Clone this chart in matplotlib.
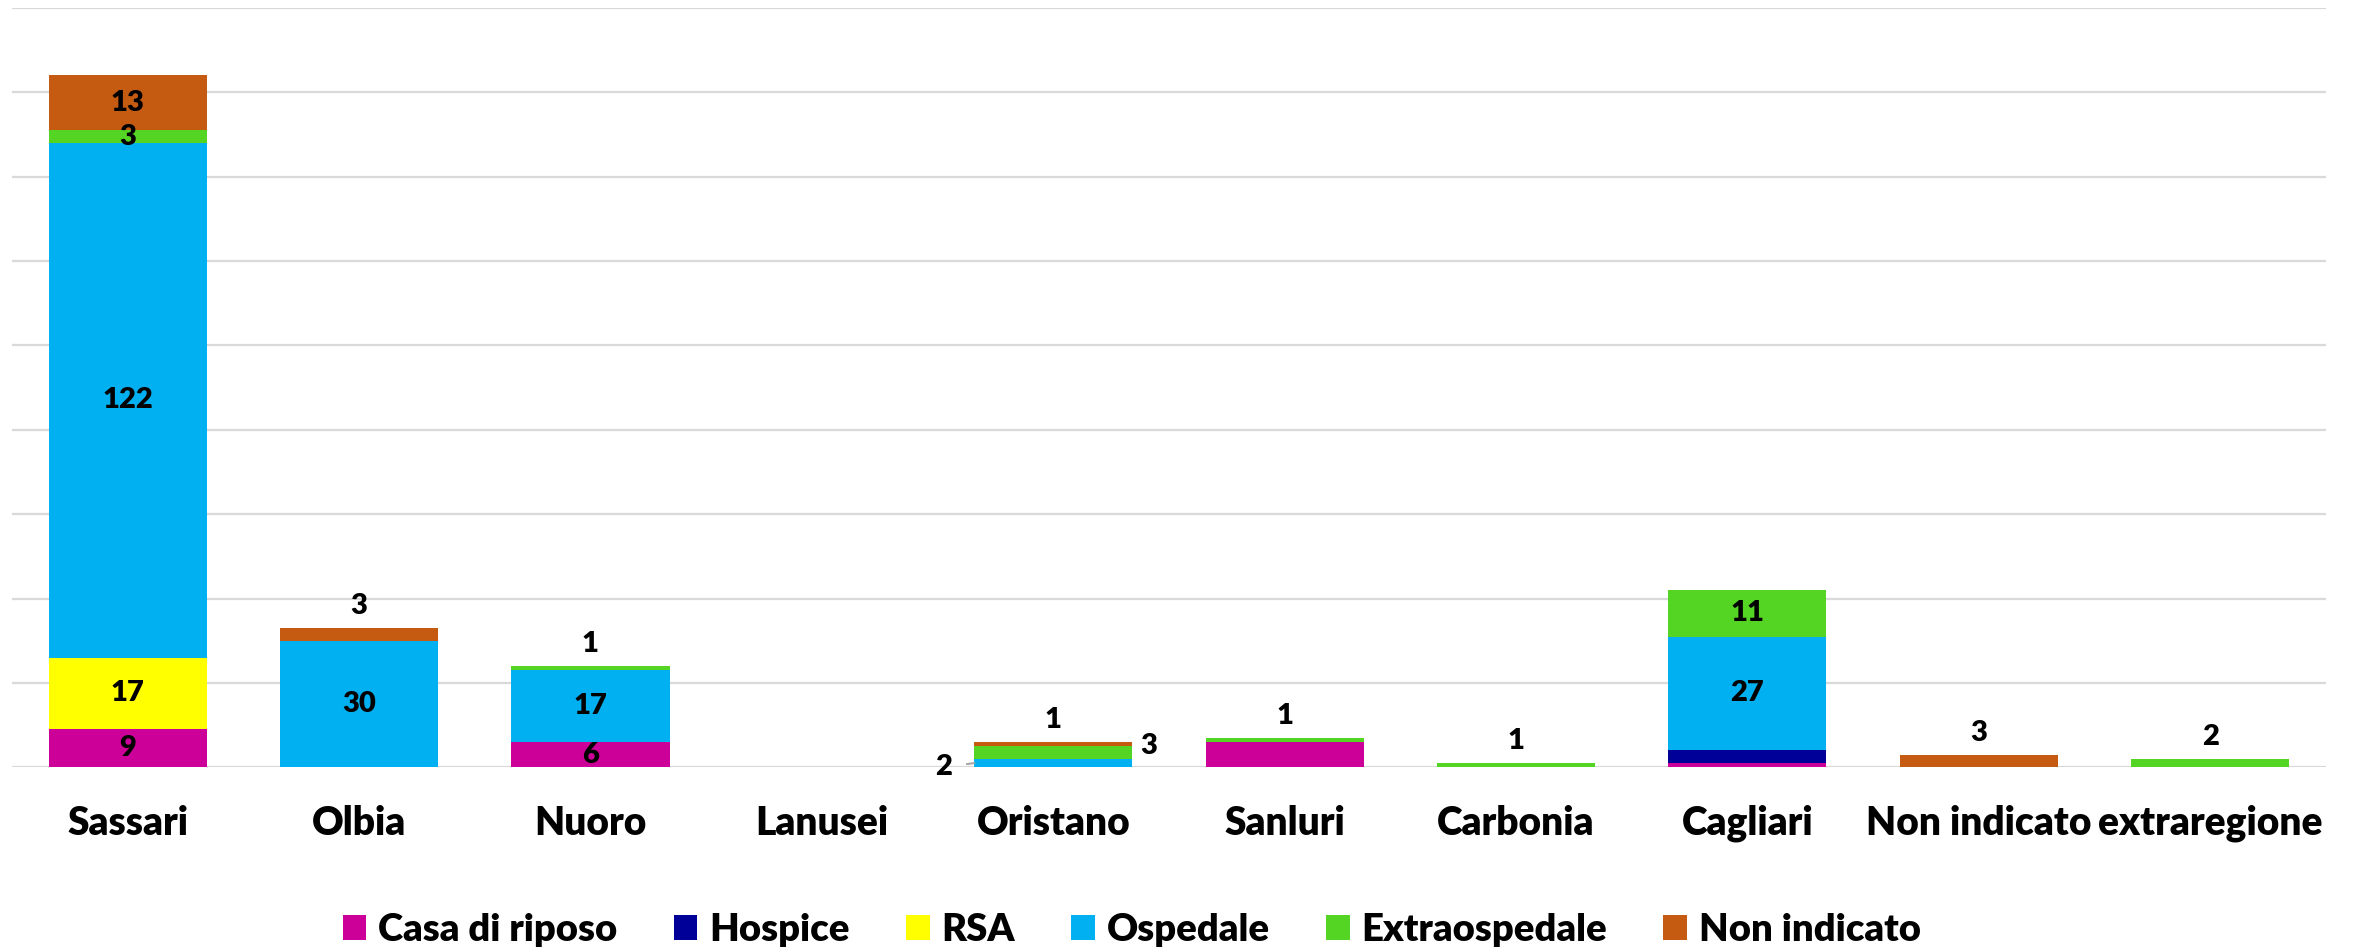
import matplotlib
matplotlib.use("Agg")
import matplotlib.pyplot as plt
import numpy as np

categories = ['Sassari', 'Olbia', 'Nuoro', 'Lanusei', 'Oristano', 'Sanluri',
              'Carbonia', 'Cagliari', 'Non indicato', 'extraregione']
series_names = ['Casa di riposo', 'Hospice', 'RSA', 'Ospedale', 'Extraospedale', 'Non indicato']
casa_di_riposo = [9, 0, 6, 0, 0, 6, 0, 1, 0, 0]
hospice = [0, 0, 0, 0, 0, 0, 0, 3, 0, 0]
rsa = [17, 0, 0, 0, 0, 0, 0, 0, 0, 0]
ospedale = [122, 30, 17, 0, 2, 0, 0, 27, 0, 0]
extraospedale = [3, 0, 1, 0, 3, 1, 1, 11, 0, 2]
non_indicato = [13, 3, 0, 0, 1, 0, 0, 0, 3, 0]
y_ticks = list(range(0, 181, 20))

colors = ['#CC0099', '#000099', '#FFFF00', '#00B0F0', '#55D523', '#C55A11']

# label placement: (category index, series index) -> mode
label_modes = {
    (0, 0): 'center', (0, 2): 'center', (0, 3): 'center', (0, 4): 'center', (0, 5): 'center',
    (1, 3): 'center', (1, 5): 'above',
    (2, 0): 'center', (2, 3): 'center', (2, 4): 'above',
    (4, 3): 'left', (4, 4): 'right', (4, 5): 'above',
    (5, 4): 'above',
    (6, 4): 'above',
    (7, 3): 'center', (7, 4): 'center',
    (8, 5): 'above',
    (9, 4): 'above',
}

FONT = 'Lato'
plt.rcParams['font.family'] = [FONT, 'DejaVu Sans']

fig = plt.figure(figsize=(23.53, 9.52), dpi=100)
ax = fig.add_axes([0.0051, 0.194, 0.9834, 0.7976])

data = [casa_di_riposo, hospice, rsa, ospedale, extraospedale, non_indicato]
x = np.arange(len(categories))
width = 0.683
bottom = np.zeros(len(categories))
for name, vals, col in zip(series_names, data, colors):
    vals = np.array(vals, dtype=float)
    ax.bar(x, vals, width, bottom=bottom, color=col, label=name, zorder=2)
    bottom += vals

totals = bottom.copy()
bottom = np.zeros(len(categories))
for si, vals in enumerate(data):
    vals = np.array(vals, dtype=float)
    for ci in range(len(categories)):
        mode = label_modes.get((ci, si))
        if mode is None or vals[ci] == 0:
            continue
        txt = str(int(vals[ci]))
        mid = bottom[ci] + vals[ci] / 2
        kw = dict(fontsize=21, fontweight='heavy', color='black', zorder=5)
        if mode == 'center':
            ax.text(x[ci], mid, txt, ha='center', va='center', **kw)
        elif mode == 'above':
            ax.annotate(txt, (x[ci], totals[ci]), xytext=(0, 22), textcoords='offset pixels',
                        ha='center', va='center', **kw)
        elif mode == 'right':
            ax.annotate(txt, (x[ci] + width / 2, mid), xytext=(8, 7), textcoords='offset pixels',
                        ha='left', va='center', **kw)
        elif mode == 'left':
            ax.annotate(txt, (x[ci] - width / 2, mid), xytext=(-31, -4), textcoords='offset pixels',
                        ha='center', va='center',
                        arrowprops=dict(arrowstyle='-', color='#A6A6A6', lw=1.5,
                                        shrinkA=9, shrinkB=0), **kw)
    bottom += vals

ax.set_xlim(-0.5, len(categories) - 0.5)
ax.set_ylim(0, 180)
ax.set_yticks(y_ticks)
ax.yaxis.grid(True, color='#D9D9D9', linewidth=1.6, zorder=0)
ax.set_axisbelow(True)
ax.tick_params(axis='y', left=False, labelleft=False)
ax.set_xticks(x)
ax.set_xticklabels(categories, fontsize=28, fontweight='heavy')
ax.tick_params(axis='x', length=0, pad=27)
for s in ax.spines.values():
    s.set_visible(False)

leg = fig.legend(loc='center', bbox_to_anchor=(0.481, 0.023), ncol=6, frameon=False,
                 prop={'family': [FONT, 'DejaVu Sans'], 'weight': 'heavy', 'size': 27.5},
                 handlelength=0.62, handleheight=0.62, handletextpad=0.31, columnspacing=1.47)

fig.savefig('out.png', dpi=100)
